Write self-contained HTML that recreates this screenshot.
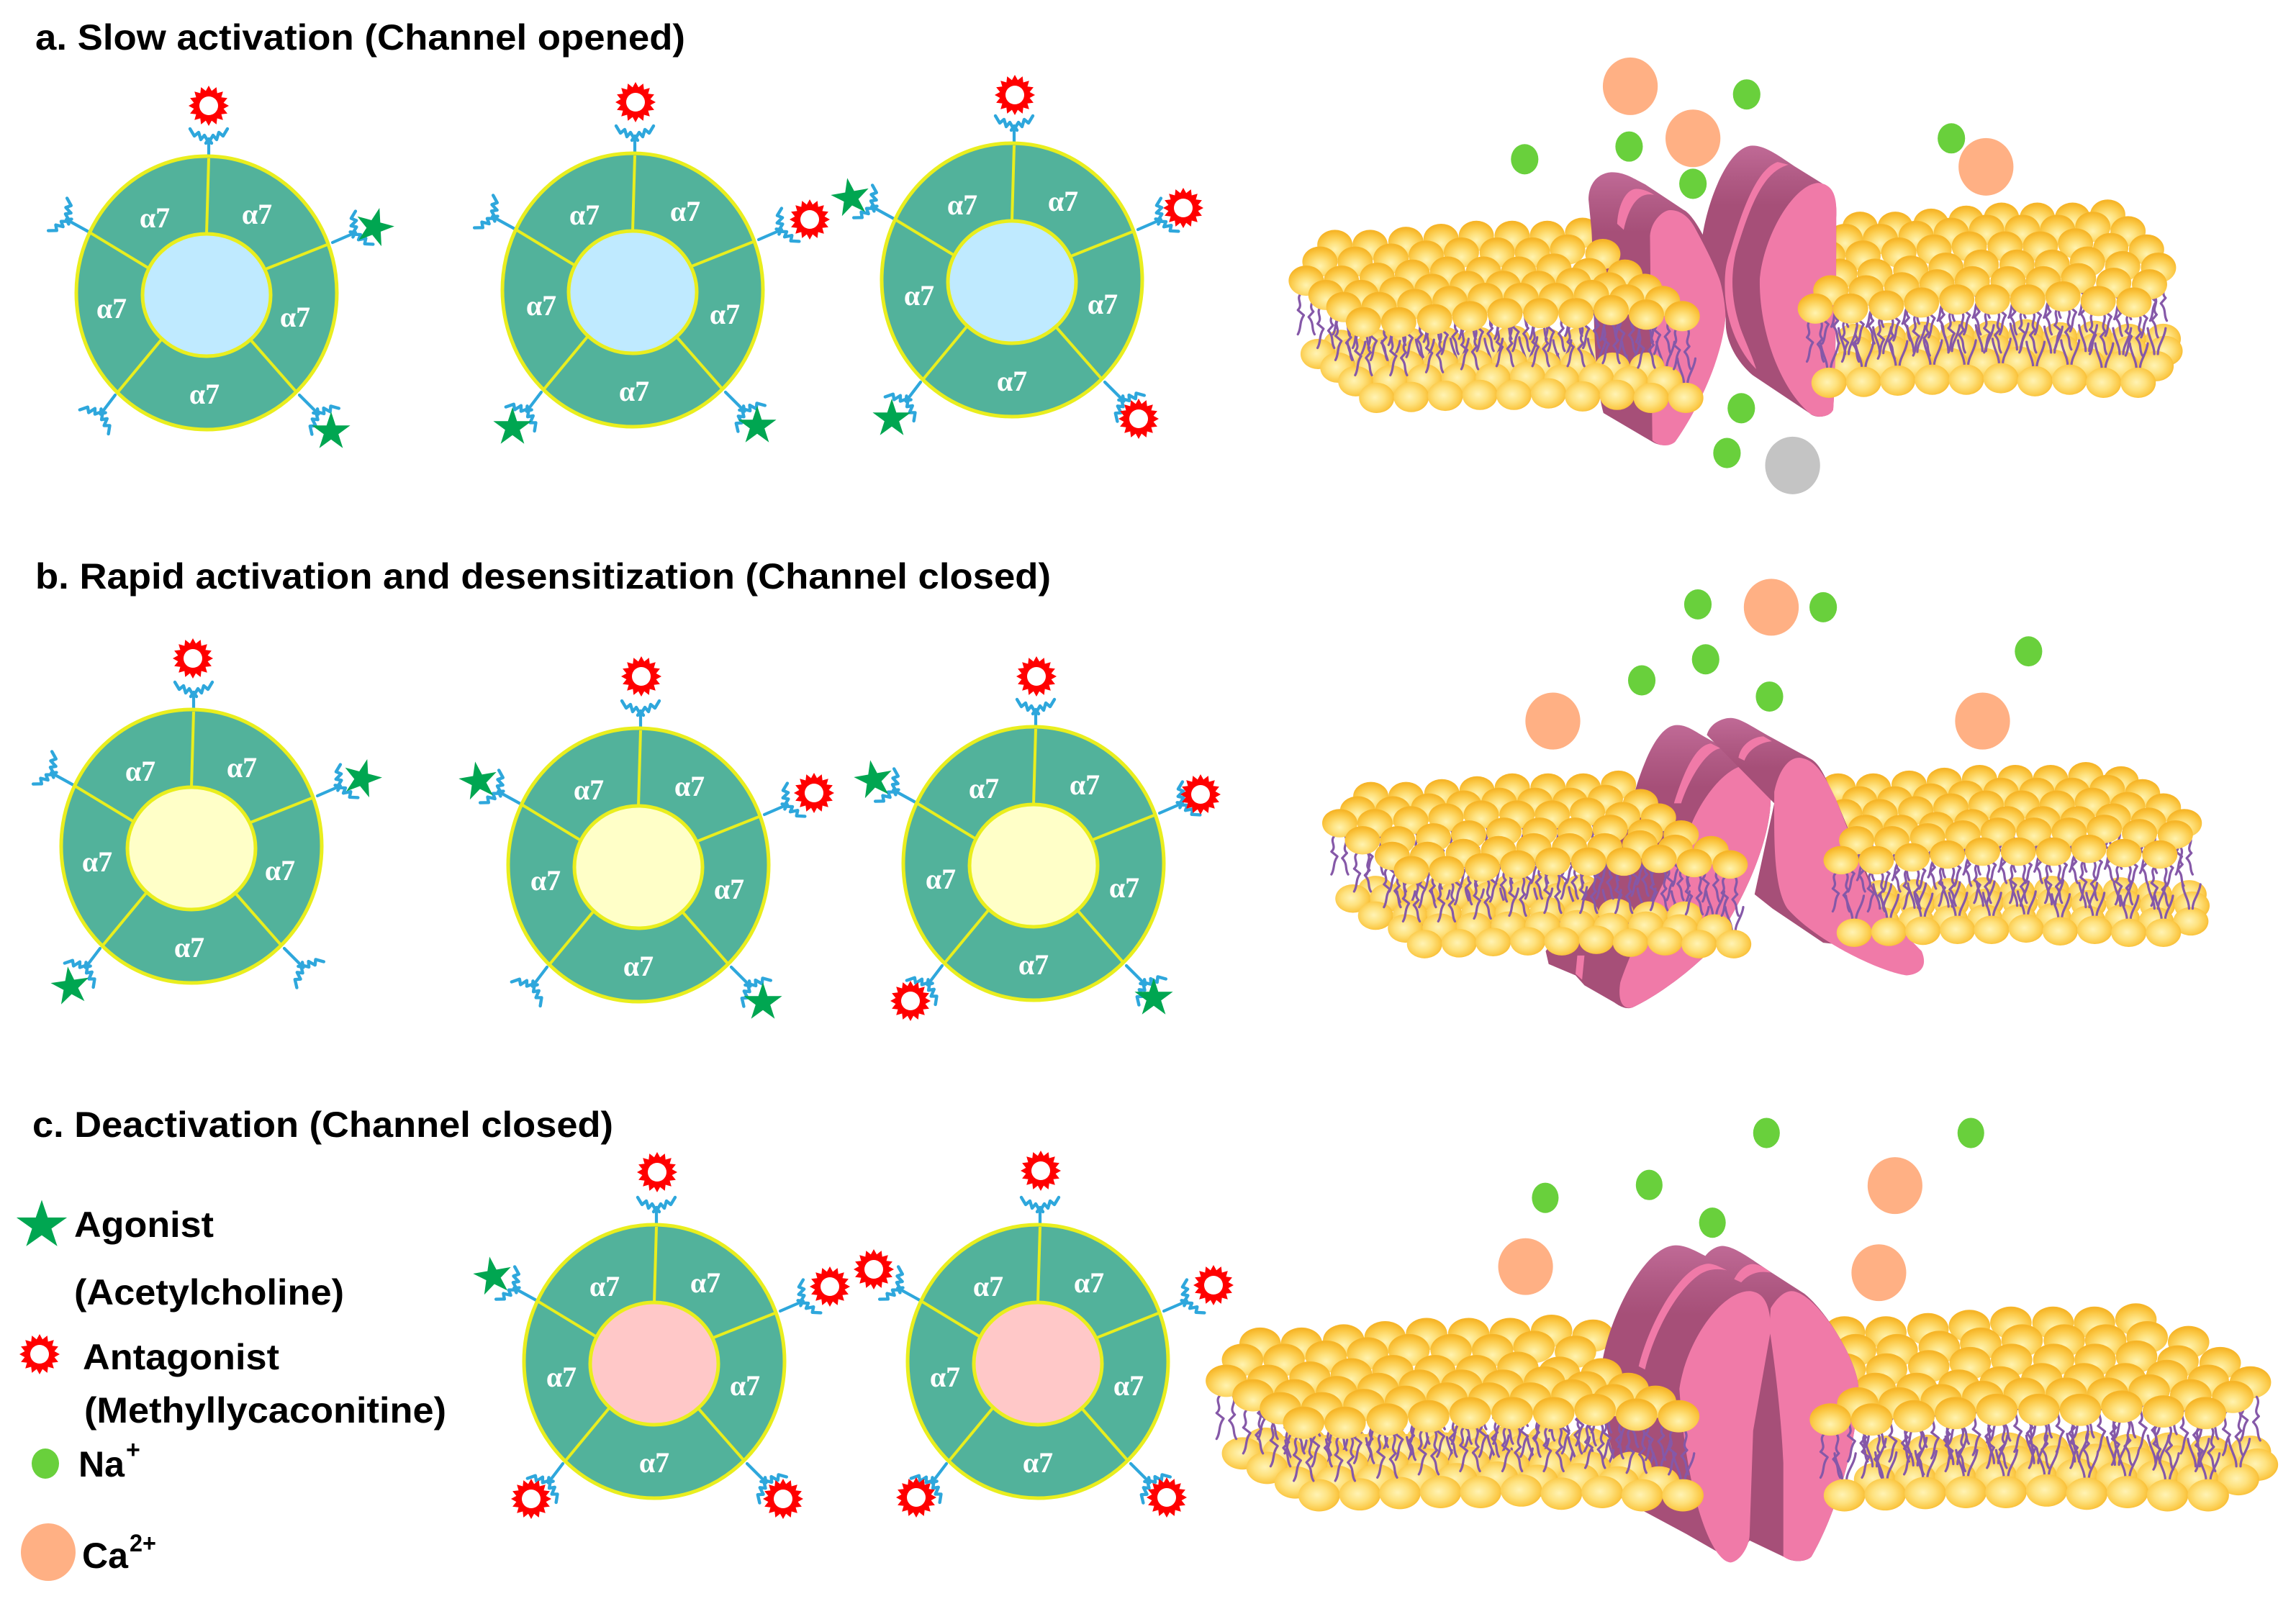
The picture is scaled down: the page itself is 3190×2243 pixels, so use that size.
<!DOCTYPE html>
<html><head><meta charset="utf-8"><title>a7 receptor activation</title>
<style>
html,body{margin:0;padding:0;background:#fff}
svg{display:block}
.tail path{vector-effect:non-scaling-stroke;stroke:#8558a8;stroke-width:3.2;fill:none;stroke-linecap:round;stroke-linejoin:round}
.h{font-family:"Liberation Sans",Arial,sans-serif;font-weight:bold;fill:#000;font-size:50px}
.a{font-family:"Liberation Serif",serif;font-weight:bold;fill:#fff;font-size:40px;text-anchor:middle}
.d{fill:url(#dk)}.p{fill:#f07aa8}.ca{fill:#ffb084}.na{fill:#69d03c}
</style></head><body>
<svg xmlns="http://www.w3.org/2000/svg" width="3190" height="2243" viewBox="0 0 3190 2243">
<defs>
<radialGradient id="sg" cx=".5" cy=".65" r=".6"><stop offset="0" stop-color="#fff3b0"/><stop offset=".35" stop-color="#fee27f"/><stop offset=".75" stop-color="#fbc845"/><stop offset="1" stop-color="#f6b528"/></radialGradient>
<radialGradient id="sb" cx=".45" cy=".48" r=".58"><stop offset="0" stop-color="#fff3b4"/><stop offset=".45" stop-color="#fee27f"/><stop offset=".85" stop-color="#fbc845"/><stop offset="1" stop-color="#f6b830"/></radialGradient>
<linearGradient id="dk" x1="0" y1="0" x2="0" y2="1"><stop offset="0" stop-color="#c06a96"/><stop offset=".12" stop-color="#b05a84"/><stop offset=".22" stop-color="#a64f78"/></linearGradient>
<ellipse id="s" rx="29.5" ry="50" fill="url(#sg)"/>
<ellipse id="u" rx="29.5" ry="50" fill="url(#sb)"/>
<g id="t8"><use href="#s"/><use href="#s" x="59"/><use href="#s" x="119" y="-10"/><use href="#s" x="178" y="-20"/><use href="#s" x="237" y="-30"/><use href="#s" x="297" y="-30"/><use href="#s" x="356" y="-30"/><use href="#s" x="415" y="-40"/></g>
<g id="t9"><use href="#t8"/><use href="#s" x="474" y="-25"/></g>
<g id="t10"><use href="#t9"/><use href="#s" x="534" y="-20"/></g>
<g id="b10"><use href="#u"/><use href="#u" x="58" y="-3"/><use href="#u" x="115" y="-7"/><use href="#u" x="173" y="-10"/><use href="#u" x="230" y="-10"/><use href="#u" x="288" y="-15"/><use href="#u" x="345" y="-5"/><use href="#u" x="403" y="-10"/><use href="#u" x="460"/><use href="#u" x="518"/></g>
<g id="tl" class="tail"><path d="M-9,0C-18,20-4,35-14,55L-4,72C-12,95-8,115-14,135"/><path d="M9,0C16,25 2,40 12,60L4,78C14,100 8,115 14,135"/></g>
<g id="tu" class="tail"><path d="M-3,0C-3,-30-12,-50-14,-85"/><path d="M3,0C3,-30 14,-50 16,-85"/></g>
<g id="tt"><use href="#tl" y="0"/><use href="#tl" x="59"/><use href="#tl" x="119" y="-10"/><use href="#tl" x="178" y="-20"/><use href="#tl" x="237" y="-30"/><use href="#tl" x="297" y="-30"/><use href="#tl" x="356" y="-30"/><use href="#tl" x="415" y="-40"/><use href="#tl" x="474" y="-25"/><use href="#tl" x="534" y="-20"/></g>
<g id="bt"><use href="#tu"/><use href="#tu" x="58" y="-3"/><use href="#tu" x="115" y="-7"/><use href="#tu" x="173" y="-10"/><use href="#tu" x="230" y="-10"/><use href="#tu" x="288" y="-15"/><use href="#tu" x="345" y="-5"/><use href="#tu" x="403" y="-10"/><use href="#tu" x="460"/><use href="#tu" x="518"/></g>
<g id="burst"><polygon fill="#f00" points="0,-28 4.1,-20.6 10.7,-25.9 11.7,-17.5 19.8,-19.8 17.5,-11.7 25.9,-10.7 20.6,-4.1 28,0 20.6,4.1 25.9,10.7 17.5,11.7 19.8,19.8 11.7,17.5 10.7,25.9 4.1,20.6 0,28 -4.1,20.6 -10.7,25.9 -11.7,17.5 -19.8,19.8 -17.5,11.7 -25.9,10.7 -20.6,4.1 -28,0 -20.6,-4.1 -25.9,-10.7 -17.5,-11.7 -19.8,-19.8 -11.7,-17.5 -10.7,-25.9 -4.1,-20.6"/><circle r="13" fill="#fff"/></g>
<polygon id="star" fill="#00a651" points="0,-28 6.3,-8.7 26.6,-8.7 10.2,3.4 16.4,22.7 0,10.7 -16.4,22.7 -10.2,3.4 -26.6,-8.7 -6.3,-8.7"/>
<g id="tuft" fill="none" stroke="#2ea7dc" stroke-width="4.4" stroke-linejoin="round" stroke-linecap="round"><path d="M0,3L-6,-7L-11,-1L-14,-11L-20,-6L-26,-16"/><path d="M0,3L6,-7L11,-1L14,-11L20,-6L26,-16"/><path d="M-4,4L0,-2L4,4"/></g>
<g id="ring">
<g stroke="#2ea7dc" stroke-width="4.2" stroke-linecap="round"><line x1="3" y1="-186" x2="3" y2="-212"/><line x1="175" y1="-70" x2="205" y2="-83"/><line x1="129" y1="142" x2="154" y2="167"/><line x1="-127" y1="142" x2="-146" y2="167"/><line x1="-164" y1="-85" x2="-193" y2="-101"/></g>
<use href="#tuft" transform="translate(3,-212)"/><use href="#tuft" transform="translate(205,-83) rotate(62)"/><use href="#tuft" transform="translate(154,167) rotate(136)"/><use href="#tuft" transform="translate(-146,167) rotate(-140)"/><use href="#tuft" transform="translate(-193,-101) rotate(-60)"/>
<ellipse rx="181" ry="190" fill="#52b29b" stroke="#e9ee1e" stroke-width="5"/>
<g stroke="#e9ee1e" stroke-width="4"><line x1="3" y1="-187" x2="0" y2="-82"/><line x1="170" y1="-68" x2="82" y2="-33"/><line x1="125" y1="138" x2="60" y2="64"/><line x1="-125" y1="140" x2="-62" y2="64"/><line x1="-164" y1="-85" x2="-80" y2="-34"/></g>
</g>
</defs>

<!-- titles -->
<text class="h" x="49" y="69" textLength="903" lengthAdjust="spacingAndGlyphs">a. Slow activation (Channel opened)</text>
<text class="h" x="49" y="818" textLength="1411" lengthAdjust="spacingAndGlyphs">b. Rapid activation and desensitization (Channel closed)</text>
<text class="h" x="45" y="1580" textLength="807" lengthAdjust="spacingAndGlyphs">c. Deactivation (Channel closed)</text>

<!-- legend -->
<use href="#star" transform="translate(58,1703) scale(1.32,1.27)"/>
<text class="h" x="103" y="1719" textLength="194" lengthAdjust="spacingAndGlyphs">Agonist</text>
<text class="h" x="103" y="1813" textLength="375" lengthAdjust="spacingAndGlyphs">(Acetylcholine)</text>
<use href="#burst" transform="translate(55,1882)"/>
<text class="h" x="115" y="1903" textLength="273" lengthAdjust="spacingAndGlyphs">Antagonist</text>
<text class="h" x="117" y="1977" textLength="503" lengthAdjust="spacingAndGlyphs">(Methyllycaconitine)</text>
<ellipse class="na" cx="63" cy="2034" rx="19" ry="21"/>
<text class="h" x="109" y="2052" textLength="64" lengthAdjust="spacingAndGlyphs">Na</text>
<text class="h" x="175" y="2026" style="font-size:34px">+</text>
<ellipse class="ca" cx="67" cy="2157" rx="38" ry="40"/>
<text class="h" x="114" y="2179" textLength="64" lengthAdjust="spacingAndGlyphs">Ca</text>
<text class="h" x="180" y="2156" style="font-size:34px" textLength="37" lengthAdjust="spacingAndGlyphs">2+</text>

<!-- rings -->
<g transform="translate(287,407)"><use href="#ring"/><ellipse cy="3" rx="89" ry="85" fill="#bfeaff" stroke="#e9ee1e" stroke-width="5"/><text class="a" x="-72" y="-91">α7</text><text class="a" x="70" y="-96">α7</text><text class="a" x="123" y="47">α7</text><text class="a" x="-132" y="35">α7</text><text class="a" x="-3" y="154">α7</text></g>
<g transform="translate(879,403)"><use href="#ring"/><ellipse cy="3" rx="89" ry="85" fill="#bfeaff" stroke="#e9ee1e" stroke-width="5"/><text class="a" x="-67" y="-91">α7</text><text class="a" x="73" y="-96">α7</text><text class="a" x="128" y="47">α7</text><text class="a" x="-127" y="35">α7</text><text class="a" x="2" y="154">α7</text></g>
<g transform="translate(1406,389)"><use href="#ring"/><ellipse cy="3" rx="89" ry="85" fill="#bfeaff" stroke="#e9ee1e" stroke-width="5"/><text class="a" x="-69" y="-91">α7</text><text class="a" x="71" y="-96">α7</text><text class="a" x="126" y="47">α7</text><text class="a" x="-129" y="35">α7</text><text class="a" x="0" y="154">α7</text></g>
<g transform="translate(266,1176)"><use href="#ring"/><ellipse cy="3" rx="89" ry="85" fill="#ffffc8" stroke="#e9ee1e" stroke-width="5"/><text class="a" x="-71" y="-91">α7</text><text class="a" x="70" y="-96">α7</text><text class="a" x="123" y="47">α7</text><text class="a" x="-131" y="35">α7</text><text class="a" x="-3" y="154">α7</text></g>
<g transform="translate(887,1202)"><use href="#ring"/><ellipse cy="3" rx="89" ry="85" fill="#ffffc8" stroke="#e9ee1e" stroke-width="5"/><text class="a" x="-69" y="-91">α7</text><text class="a" x="71" y="-96">α7</text><text class="a" x="126" y="47">α7</text><text class="a" x="-129" y="35">α7</text><text class="a" x="0" y="154">α7</text></g>
<g transform="translate(1436,1200)"><use href="#ring"/><ellipse cy="3" rx="89" ry="85" fill="#ffffc8" stroke="#e9ee1e" stroke-width="5"/><text class="a" x="-69" y="-91">α7</text><text class="a" x="71" y="-96">α7</text><text class="a" x="126" y="47">α7</text><text class="a" x="-129" y="35">α7</text><text class="a" x="0" y="154">α7</text></g>
<g transform="translate(909,1892)"><use href="#ring"/><ellipse cy="3" rx="89" ry="85" fill="#ffc8c8" stroke="#e9ee1e" stroke-width="5"/><text class="a" x="-69" y="-91">α7</text><text class="a" x="71" y="-96">α7</text><text class="a" x="126" y="47">α7</text><text class="a" x="-129" y="35">α7</text><text class="a" x="0" y="154">α7</text></g>
<g transform="translate(1442,1892)"><use href="#ring"/><ellipse cy="3" rx="89" ry="85" fill="#ffc8c8" stroke="#e9ee1e" stroke-width="5"/><text class="a" x="-69" y="-91">α7</text><text class="a" x="71" y="-96">α7</text><text class="a" x="126" y="47">α7</text><text class="a" x="-129" y="35">α7</text><text class="a" x="0" y="154">α7</text></g>

<!-- ligands -->
<use href="#burst" x="290" y="147"/><use href="#star" transform="translate(520,316) rotate(15)"/><use href="#star" x="460" y="600"/>
<use href="#burst" x="883" y="142"/><use href="#burst" x="1125" y="305"/><use href="#star" x="1052" y="592"/><use href="#star" x="712" y="594"/>
<use href="#burst" x="1410" y="132"/><use href="#burst" x="1644" y="289"/><use href="#burst" x="1582" y="582"/><use href="#star" x="1239" y="582"/><use href="#star" transform="translate(1182,275) rotate(-10)"/>
<use href="#burst" x="268" y="915"/><use href="#star" transform="translate(503,1082) rotate(15)"/><use href="#star" transform="translate(98,1371) rotate(-8)"/>
<use href="#burst" x="891" y="940"/><use href="#burst" x="1131" y="1102"/><use href="#star" x="1060" y="1393"/><use href="#star" transform="translate(665,1086) rotate(-10)"/>
<use href="#burst" x="1440" y="940"/><use href="#burst" x="1668" y="1104"/><use href="#star" x="1603" y="1387"/><use href="#burst" x="1265" y="1391"/><use href="#star" transform="translate(1214,1084) rotate(-10)"/>
<use href="#burst" x="913" y="1629"/><use href="#burst" x="1153" y="1788"/><use href="#burst" x="1088" y="2083"/><use href="#burst" x="738" y="2083"/><use href="#star" transform="translate(685,1774) rotate(-10)"/>
<use href="#burst" x="1446" y="1627"/><use href="#burst" x="1686" y="1786"/><use href="#burst" x="1621" y="2081"/><use href="#burst" x="1273" y="2081"/><use href="#burst" x="1214" y="1764"/>

<!-- membrane a -->
<g transform="translate(1780,50) scale(.8292,.4209)">
<use href="#b10" x="100" y="1020"/><use href="#b10" x="62" y="1050"/><use href="#b10" x="960" y="1000"/><use href="#b10" x="963" y="1040"/><use href="#b10" x="948" y="1090"/>
<use href="#t8" x="90" y="690"/>
<use href="#t8" x="970" y="630"/><use href="#t9" x="945" y="670"/><use href="#t10" x="916" y="725"/><use href="#t10" x="936" y="785"/>
<path class="d" d="M515,540C515,480 535,450 555,450C575,450 590,470 610,490L675,575C700,600 745,800 745,900C745,1050 690,1260 660,1340C650,1355 635,1355 622,1340L540,1245C520,1100 525,800 520,640Z"/>
<path class="p" d="M563,620C565,550 580,505 595,505C605,505 615,512 625,525C605,515 585,540 574,640Z"/>
<path class="p" d="M618,660C620,610 640,575 652,575C670,575 685,600 695,640C720,730 745,830 745,900C745,1060 690,1260 660,1340C650,1358 632,1355 622,1335L620,1000Z"/>
<path class="d" d="M706,660C715,540 750,362 790,362C810,362 830,390 860,430L905,485C925,510 932,540 930,600C930,800 930,1100 925,1230C920,1260 895,1265 885,1245L790,1120C760,1070 745,1000 745,950C745,850 730,750 706,660Z"/>
<path class="p" d="M832,416L850,425C805,450 785,570 762,713C752,800 755,880 770,967C778,1010 790,1060 796,1100C770,1050 748,960 744,860C742,790 745,750 752,713C770,590 795,440 832,416Z"/>
<path class="p" d="M802,800C810,650 860,490 900,485C925,490 932,530 930,600C930,800 930,1100 925,1235C918,1262 895,1262 885,1245C830,1150 800,950 802,800Z"/>
<use href="#bt" x="160" y="1150"/><use href="#bt" x="125" y="1095"/><use href="#bt" x="918" y="1100"/><use href="#bt" x="948" y="1050"/>
<use href="#b10" x="95" y="1095"/><use href="#b10" x="125" y="1140"/><use href="#b10" x="160" y="1195"/><use href="#b10" x="918" y="1145"/>
<use href="#tt" x="42" y="850"/><use href="#tt" x="75" y="895"/><use href="#tt" x="105" y="935"/><use href="#tt" x="138" y="985"/>
<use href="#tt" x="921" y="880"/><use href="#tt" x="895" y="940"/><use href="#tt" x="936" y="825"/>
<use href="#t9" x="65" y="745"/><use href="#t10" x="42" y="808"/><use href="#t10" x="75" y="855"/><use href="#t10" x="105" y="895"/><use href="#t10" x="138" y="945"/>
<use href="#t10" x="921" y="840"/><use href="#t10" x="895" y="900"/>
<ellipse class="ca" cx="585" cy="166" rx="46" ry="95"/><ellipse class="ca" cx="690" cy="338" rx="46" ry="95"/><ellipse class="ca" cx="1181" cy="432" rx="46" ry="95"/>
<ellipse class="na" cx="780" cy="193" rx="23" ry="50"/><ellipse class="na" cx="583" cy="365" rx="23" ry="50"/><ellipse class="na" cx="408" cy="407" rx="23" ry="50"/><ellipse class="na" cx="690" cy="488" rx="23" ry="50"/><ellipse class="na" cx="1123" cy="338" rx="23" ry="50"/><ellipse class="na" cx="771" cy="1229" rx="23" ry="50"/><ellipse class="na" cx="747" cy="1377" rx="23" ry="50"/>
<ellipse cx="857" cy="1418" rx="46" ry="95" fill="#c4c4c4"/>
</g>

<!-- membrane b -->
<g transform="translate(1820,800) scale(.8292,.3954)">
<use href="#b10" x="110" y="1105"/><use href="#b10" x="72" y="1135"/><use href="#b10" x="955" y="1120"/><use href="#b10" x="960" y="1160"/><use href="#b10" x="958" y="1215"/>
<use href="#t8" x="102" y="775"/>
<use href="#t9" x="885" y="745"/><use href="#t9" x="921" y="790"/><use href="#t10" x="896" y="835"/><use href="#t10" x="931" y="890"/>
<path class="d" d="M540,790C560,640 585,525 615,525C630,525 640,540 660,565L740,660C770,690 775,740 772,790C770,950 720,1180 660,1340C620,1420 570,1490 540,1518C530,1525 520,1515 510,1500L460,1440L445,1405L400,1365L395,1320L500,1000Z"/>
<path class="p" d="M610,800C625,700 645,595 672,590L688,607C668,612 640,690 622,800Z"/>
<path class="p" d="M448,1335L460,1335L456,1420L445,1400Z"/>
<path class="p" d="M640,870C660,770 700,665 735,665C760,665 775,720 772,790C770,950 720,1180 660,1340C620,1420 570,1490 540,1518C525,1525 515,1500 520,1430C540,1300 610,1000 640,870Z"/>
<path class="d" d="M665,560C670,520 690,500 705,500C720,500 740,530 770,565L840,645C860,670 870,750 880,780L960,1180L900,1300L860,1290L775,1170L745,1120L778,800Z"/>
<path class="p" d="M718,640C722,590 745,565 760,565L774,582C755,585 735,610 728,650Z"/>
<path class="p" d="M778,760C785,690 800,640 820,640C845,645 860,690 880,780C900,880 930,1060 960,1180L1025,1320C1035,1370 1025,1400 1000,1405C960,1395 850,1290 800,1170C775,1090 778,900 778,760Z"/>
<use href="#bt" x="192" y="1250"/><use href="#bt" x="160" y="1195"/><use href="#bt" x="912" y="1210"/><use href="#bt" x="958" y="1170"/>
<use href="#b10" x="110" y="1195"/><use href="#b10" x="160" y="1240"/><use href="#b10" x="192" y="1295"/><use href="#b10" x="912" y="1255"/>
<use href="#tt" x="50" y="915"/><use href="#tt" x="88" y="975"/><use href="#tt" x="138" y="1030"/><use href="#tt" x="170" y="1080"/>
<use href="#tt" x="916" y="975"/><use href="#tt" x="890" y="1045"/><use href="#tt" x="931" y="935"/>
<use href="#t9" x="80" y="825"/><use href="#t10" x="50" y="870"/><use href="#t10" x="88" y="930"/><use href="#t10" x="138" y="985"/><use href="#t10" x="170" y="1035"/>
<use href="#t10" x="916" y="930"/><use href="#t10" x="890" y="1000"/>
<ellipse class="ca" cx="773" cy="111" rx="46" ry="100"/><ellipse class="ca" cx="407" cy="511" rx="46" ry="100"/><ellipse class="ca" cx="1127" cy="511" rx="46" ry="100"/>
<ellipse class="na" cx="650" cy="101" rx="23" ry="53"/><ellipse class="na" cx="860" cy="111" rx="23" ry="53"/><ellipse class="na" cx="663" cy="294" rx="23" ry="53"/><ellipse class="na" cx="556" cy="368" rx="23" ry="53"/><ellipse class="na" cx="770" cy="425" rx="23" ry="53"/><ellipse class="na" cx="1204" cy="266" rx="23" ry="53"/>
</g>

<!-- membrane c -->
<g transform="translate(1660,1540) scale(.9758,.4484)">
<use href="#b10" x="100" y="1040"/><use href="#b10" x="68" y="1070"/><use href="#b10" x="985" y="1065"/><use href="#b10" x="995" y="1105"/><use href="#b10" x="968" y="1150"/>
<use href="#t9" x="93" y="730"/><use href="#t9" x="68" y="780"/>
<use href="#t8" x="925" y="695"/><use href="#t9" x="941" y="750"/><use href="#t10" x="926" y="810"/><use href="#t10" x="969" y="870"/>
<path class="d" d="M580,790C590,650 640,425 685,425C700,425 715,445 727,458C735,435 745,427 752,427C770,430 790,465 825,515L868,575C900,630 945,790 945,870C945,1000 920,1230 878,1390C870,1408 850,1408 840,1392L790,1340L768,1405L700,1320L640,1250C600,1170 575,950 580,790Z"/>
<path class="p" d="M632,800C645,680 690,485 732,482C742,484 750,495 758,503C742,495 728,500 716,520C685,570 655,690 641,810Z"/>
<path class="p" d="M768,530C775,500 785,483 795,483C805,485 812,495 820,510C805,503 790,510 778,540Z"/>
<path class="p" d="M690,870C700,720 750,567 790,567C808,570 820,600 820,690L795,1000L790,1320C790,1360 775,1408 762,1408C735,1400 700,1200 690,870Z"/>
<path class="p" d="M820,620C830,585 840,567 850,567C885,570 945,780 945,870C945,1000 920,1230 878,1390C870,1408 850,1408 838,1390L838,1100C835,950 825,780 818,680Z"/>
<use href="#bt" x="177" y="1155"/><use href="#bt" x="143" y="1115"/><use href="#bt" x="925" y="1155"/><use href="#bt" x="968" y="1110"/>
<use href="#b10" x="103" y="1115"/><use href="#b10" x="143" y="1160"/><use href="#b10" x="177" y="1200"/><use href="#b10" x="925" y="1200"/>
<use href="#tt" x="45" y="890"/><use href="#tt" x="83" y="935"/><use href="#tt" x="122" y="975"/><use href="#tt" x="155" y="1020"/>
<use href="#tt" x="944" y="960"/><use href="#tt" x="905" y="1010"/><use href="#tt" x="969" y="915"/>
<use href="#t10" x="45" y="845"/><use href="#t10" x="83" y="890"/><use href="#t10" x="122" y="930"/><use href="#t10" x="155" y="975"/>
<use href="#t10" x="944" y="915"/><use href="#t10" x="905" y="965"/>
<ellipse class="ca" cx="997" cy="240" rx="39" ry="88"/><ellipse class="ca" cx="471" cy="491" rx="39" ry="88"/><ellipse class="ca" cx="974" cy="510" rx="39" ry="88"/>
<ellipse class="na" cx="814" cy="77" rx="19" ry="47"/><ellipse class="na" cx="1105" cy="77" rx="19" ry="47"/><ellipse class="na" cx="647" cy="238" rx="19" ry="47"/><ellipse class="na" cx="499" cy="278" rx="19" ry="47"/><ellipse class="na" cx="737" cy="355" rx="19" ry="47"/>
</g>
</svg>
</body></html>
